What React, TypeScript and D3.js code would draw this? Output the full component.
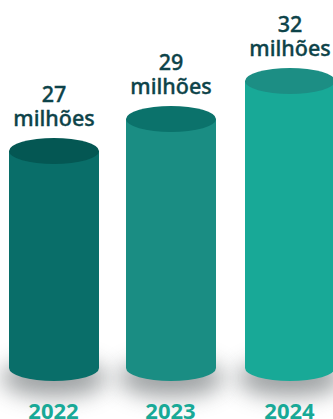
import React from "react";
import * as d3 from "d3";

const years = ["2022", "2023", "2024"];
const values = [27, 29, 32];
const unit = "milhões";
const bodyColors = ["#096e69", "#1a8d83", "#18a997"];
const topColors = ["#045753", "#0b726b", "#1c8e84"];

const W = 333, H = 419;
const RX = 45, RY = 13;
const baseY = 368;

const centers = [54, 171, 290];
const xc = d3.scaleOrdinal<string, number>().domain(years).range(centers);
const y = d3.scaleLinear().domain([27, 29, 32]).range([151, 119, 81]);

export default function App() {
  return (
    <svg width={W} height={H} viewBox={`0 0 ${W} ${H}`}
      style={{ position: "fixed", left: 0, top: 0, display: "block", background: "#fff" }}
      fontFamily="'Noto Sans', 'Open Sans', sans-serif">
      <defs>
        <filter id="sh" x="-60%" y="-200%" width="220%" height="500%">
          <feGaussianBlur stdDeviation="11" />
        </filter>
      </defs>
      {years.map((yr) => (
        <ellipse key={yr} cx={xc(yr)} cy={baseY + 10} rx={RX + 8} ry={RY + 6} fill="#62686a" opacity={0.62} filter="url(#sh)" />
      ))}
      {years.map((yr, i) => {
        const cx = xc(yr);
        const top = y(values[i]);
        const body = `M${cx - RX},${top}V${baseY}A${RX},${RY} 0 0 0 ${cx + RX},${baseY}V${top}Z`;
        return (
          <g key={yr}>
            <path d={body} fill={bodyColors[i]} />
            <ellipse cx={cx} cy={top} rx={RX} ry={RY} fill={topColors[i]} />
            <text x={cx} y={top - 49} textAnchor="middle" fontSize={21.5} fontWeight={500} fill="#0d4349" stroke="#0d4349" strokeWidth={0.35}>{values[i]}</text>
            <text x={cx} y={top - 25} textAnchor="middle" fontSize={21.5} fontWeight={500} fill="#0d4349" stroke="#0d4349" strokeWidth={0.35}>{unit}</text>
            <text x={cx - 0.5} y={418.5} textAnchor="middle" fontSize={22} fontWeight={700} fill="#18a997">{yr}</text>
          </g>
        );
      })}
    </svg>
  );
}
